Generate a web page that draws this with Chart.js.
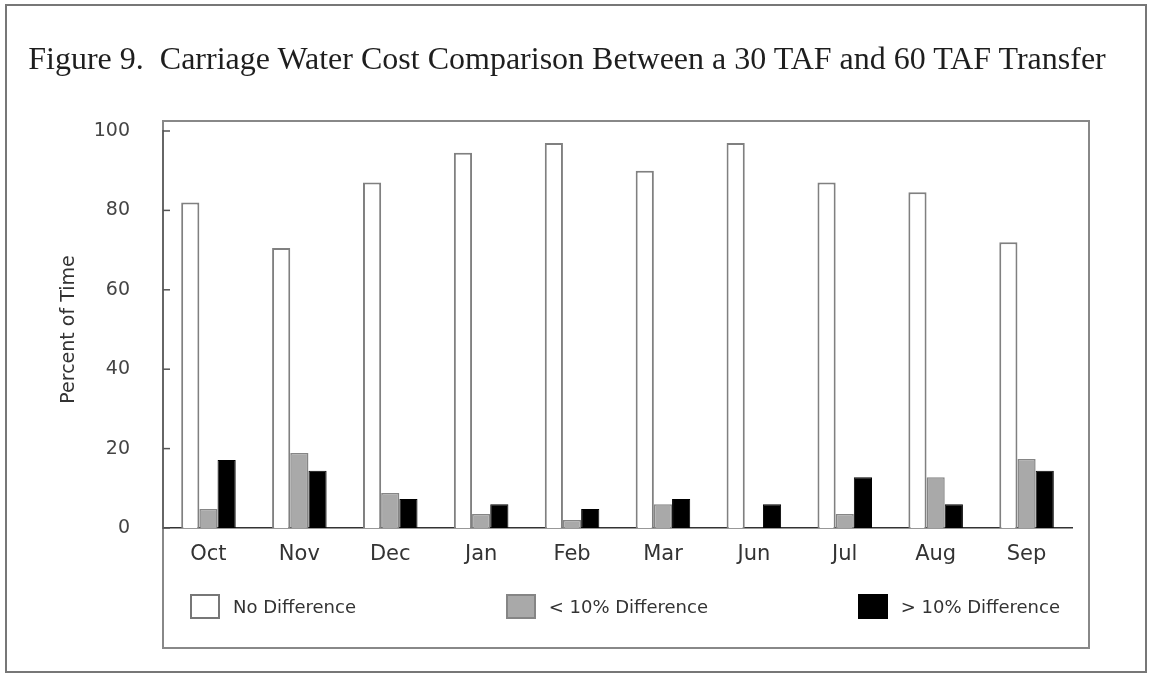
<!DOCTYPE html>
<html>
<head>
<meta charset="utf-8">
<script src="https://cdn.jsdelivr.net/npm/chart.js@4/dist/chart.umd.min.js"></script>
<style>
  body { margin: 0; background: #fff; }
  #wrap { position: relative; width: 1151px; height: 679px; }
  #title {
    position: absolute; left: 0; top: 39px; width: 1134px; margin: 0;
    text-align: center; white-space: pre;
    font-family: "Liberation Serif", serif; font-size: 32px; line-height: 38px;
    font-weight: normal; color: #1e1e1e;
  }
  #legend {
    position: absolute; left: 190px; top: 594px; width: 870px;
    display: flex; justify-content: space-between; align-items: center;
    font-family: "DejaVu Sans", sans-serif; font-size: 18px; color: #333;
  }
  #legend .item { display: flex; align-items: center; }
  #legend .box { width: 30px; height: 25px; margin-right: 13px; box-sizing: border-box; }
</style>
</head>
<body>
<div id="wrap">
  <canvas id="myChart" width="1151" height="679"></canvas>
  <h1 id="title"></h1>
  <div id="legend"></div>
</div>
<script>
var titleText = 'Figure 9.  Carriage Water Cost Comparison Between a 30 TAF and 60 TAF Transfer';
var months = ["Oct", "Nov", "Dec", "Jan", "Feb", "Mar", "Jun", "Jul", "Aug", "Sep"];
var noDiff = [82, 70.5, 87, 94.5, 97, 90, 97, 87, 84.6, 72];
var under10 = [4.8, 18.9, 8.8, 3.5, 2, 6, 0, 3.5, 12.8, 17.4];
var over10 = [17.1, 14.4, 7.3, 6, 4.8, 7.3, 6, 12.8, 6, 14.4];
var yTicks = [0, 20, 40, 60, 80, 100];

var sansFont = "'DejaVu Sans', sans-serif";

document.getElementById('title').textContent = titleText;

// frame around the page and box around the plot
var framePlugin = {
	id: 'frame',
	beforeDraw: function (chart) {
		var ctx = chart.ctx;
		var area = chart.chartArea;
		ctx.save();
		ctx.strokeStyle = '#777';
		ctx.lineWidth = 2;
		ctx.strokeRect(6, 5, chart.width - 11, chart.height - 12);
		ctx.strokeStyle = '#888';
		ctx.strokeRect(area.left, area.top - 10, area.right + 17 - area.left, chart.height - 31 - (area.top - 10));
		ctx.restore();
	},
	afterDraw: function (chart) {
		// small inward tick marks on the y axis
		var ctx = chart.ctx;
		var y = chart.scales.y;
		ctx.save();
		ctx.strokeStyle = '#555';
		ctx.lineWidth = 1.5;
		yTicks.forEach(function (v) {
			var py = y.getPixelForValue(v);
			ctx.beginPath();
			ctx.moveTo(y.right, py);
			ctx.lineTo(y.right + 7, py);
			ctx.stroke();
		});
		ctx.restore();
	}
};

var ctx = document.getElementById("myChart").getContext('2d');
var myChart = new Chart(ctx, {
	type: 'bar',
	data: {
		labels: months,
		datasets: [{
			label: 'No Difference',
			data: noDiff,
			backgroundColor: '#ffffff',
			borderColor: '#808080',
			borderWidth: 2
		}, {
			label: '< 10% Difference',
			data: under10,
			backgroundColor: '#a9a9a9',
			borderColor: '#858585',
			borderWidth: 1.5
		}, {
			label: '> 10% Difference',
			data: over10,
			backgroundColor: '#000000',
			borderColor: '#000000',
			borderWidth: 1
		}]
	},
	options: {
		responsive: false,
		animation: false,
		layout: { padding: { left: 58, right: 79, top: 131, bottom: 101 } },
		datasets: { bar: { categoryPercentage: 0.6, barPercentage: 1.0 } },
		plugins: {
			legend: { display: false },
			tooltip: { enabled: false },
			title: { display: false }
		},
		scales: {
			x: {
				grid: { display: false, drawTicks: false },
				border: { display: true, color: '#333', width: 1.5 },
				ticks: { color: '#333', padding: 14, font: { family: sansFont, size: 21 } },
				afterFit: function (s) { s.height = 50; }
			},
			y: {
				min: 0,
				max: 100,
				grid: { display: false, drawTicks: false },
				border: { display: true, color: '#666', width: 2 },
				afterBuildTicks: function (s) { s.ticks = yTicks.map(function (v) { return { value: v }; }); },
				ticks: { color: '#444', padding: 33, font: { family: sansFont, size: 19 } },
				title: {
					display: true,
					text: 'Percent of Time',
					color: '#333',
					font: { family: sansFont, size: 19 },
					padding: { top: 0, bottom: 0 }
				},
				afterFit: function (s) { s.width = 105; }
			}
		}
	},
	plugins: [framePlugin]
});

// legend built from the chart's datasets
var legendEl = document.getElementById('legend');
myChart.data.datasets.forEach(function (ds) {
	var item = document.createElement('div');
	item.className = 'item';
	var box = document.createElement('span');
	box.className = 'box';
	box.style.background = ds.backgroundColor;
	box.style.border = '2px solid ' + (ds.backgroundColor === '#ffffff' ? '#777' : ds.borderColor);
	var txt = document.createElement('span');
	txt.textContent = ds.label;
	item.appendChild(box);
	item.appendChild(txt);
	legendEl.appendChild(item);
});
</script>
</body>
</html>
